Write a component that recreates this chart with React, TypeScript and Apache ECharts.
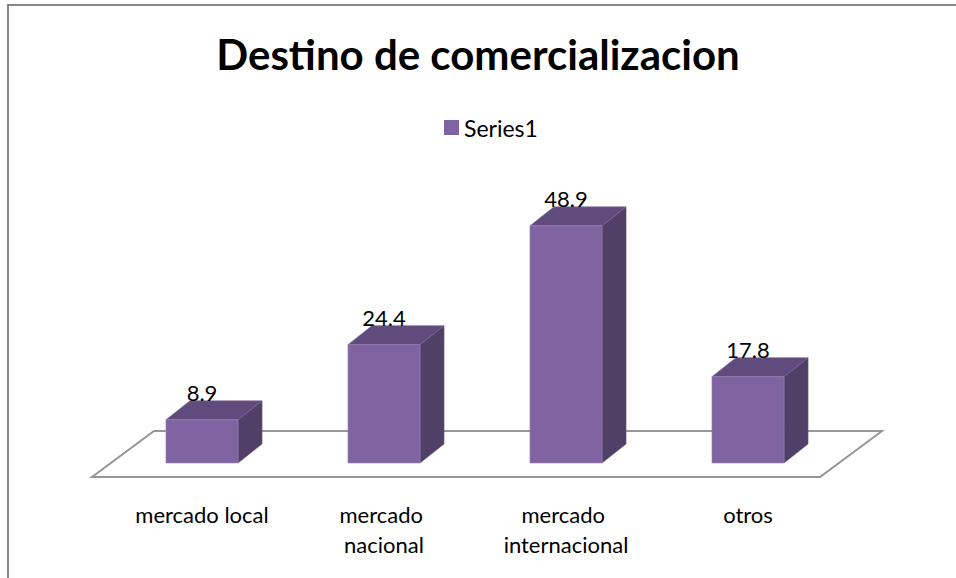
import React, { useEffect, useRef } from "react";
import * as echarts from "echarts";

const TITLE = "Destino de comercializacion";
const SERIES_NAME = "Series1";
const categories = ["mercado local", "mercado nacional", "mercado internacional", "otros"];
const values = [8.9, 24.4, 48.9, 17.8];
const Y_MIN = 0;
const Y_MAX = 60;

const FONT = "Lato, Carlito, Calibri, 'Liberation Sans', sans-serif";
const FRONT = "#8064A2";
const TOP = "#604B7D";
const SIDE = "#503F67";
const DEPTH_X = 24;
const DEPTH_Y = -19;
const BAR_RATIO = 0.396;

export default function App() {
  const ref = useRef<HTMLDivElement>(null);
  useEffect(() => {
    if (!ref.current) return;
    const chart = echarts.init(ref.current, undefined, { renderer: "svg" });
    const option: any = {
      animation: false,
      backgroundColor: "#ffffff",
      title: {
        text: TITLE,
        left: "center",
        top: 28,
        textStyle: { fontFamily: FONT, fontWeight: "bold", fontSize: 42, color: "#000000" },
      },
      legend: {
        show: true,
        left: 444,
        top: 116,
        padding: 0,
        icon: "rect",
        itemWidth: 15,
        itemHeight: 15,
        itemGap: 4,
        textStyle: { fontFamily: FONT, fontSize: 23, color: "#000000" },
        data: [SERIES_NAME],
      },
      grid: { left: 111, width: 728, top: 172, height: 291, containLabel: false },
      xAxis: {
        type: "category",
        data: categories,
        axisLine: { show: false },
        axisTick: { show: false },
        axisLabel: {
          fontFamily: FONT,
          fontSize: 22,
          color: "#000000",
          margin: 36,
          lineHeight: 30,
          width: 140,
          overflow: "break",
          interval: 0,
        },
      },
      yAxis: { type: "value", min: Y_MIN, max: Y_MAX, show: false, splitLine: { show: false } },
      graphic: [
        {
          type: "rect",
          shape: { x: 8, y: 5, width: 1200, height: 1200 },
          style: { fill: "none", stroke: "#878787", lineWidth: 2 },
          silent: true,
          z: 100,
        },
      ],
      series: [
        {
          type: "custom",
          name: "floor",
          silent: true,
          z: 1,
          data: [[0, 0]],
          encode: { x: 0, y: 1 },
          renderItem: (params: any) => {
            const cs = params.coordSys;
            const L = cs.x;
            const R = cs.x + cs.width;
            const B = cs.y + cs.height;
            return {
              type: "polygon",
              shape: {
                points: [
                  [L - 19, B + 14],
                  [R - 19, B + 14],
                  [R + 43, B - 32],
                  [L + 43, B - 32],
                ],
              },
              style: { fill: "#ffffff", stroke: "#979797", lineWidth: 2 },
            };
          },
        },
        {
          type: "custom",
          name: SERIES_NAME,
          z: 2,
          itemStyle: { color: FRONT },
          data: values.map((v, i) => [i, v]),
          encode: { x: 0, y: 1 },
          renderItem: (params: any, api: any) => {
            const idx = api.value(0);
            const val = api.value(1);
            const base = api.coord([idx, 0]);
            const top = api.coord([idx, val]);
            const band = api.size([1, 0])[0];
            const w = band * BAR_RATIO;
            const x0 = base[0] - w / 2;
            const x1 = base[0] + w / 2;
            const yb = base[1];
            const yt = top[1];
            return {
              type: "group",
              children: [
                {
                  type: "polygon",
                  shape: {
                    points: [
                      [x1, yt],
                      [x1 + DEPTH_X, yt + DEPTH_Y],
                      [x1 + DEPTH_X, yb + DEPTH_Y],
                      [x1, yb],
                    ],
                  },
                  style: { fill: SIDE, stroke: "#6a5a80", lineWidth: 0.6 },
                },
                {
                  type: "polygon",
                  shape: {
                    points: [
                      [x0, yt],
                      [x1, yt],
                      [x1 + DEPTH_X, yt + DEPTH_Y],
                      [x0 + DEPTH_X, yt + DEPTH_Y],
                    ],
                  },
                  style: { fill: TOP, stroke: "#7a6796", lineWidth: 0.6 },
                },
                {
                  type: "rect",
                  shape: { x: x0, y: yt, width: w, height: yb - yt },
                  style: { fill: FRONT, stroke: "#9884b4", lineWidth: 0.6 },
                },
                {
                  type: "text",
                  x: base[0],
                  y: yt + DEPTH_Y + 3,
                  style: {
                    text: String(val),
                    fontFamily: FONT,
                    fontSize: 22,
                    fill: "#000000",
                    align: "center",
                    verticalAlign: "bottom",
                  },
                },
              ],
            };
          },
        },
      ],
    };
    chart.setOption(option);
    return () => chart.dispose();
  }, []);
  return (
    <div
      ref={ref}
      style={{ position: "absolute", left: 0, top: 0, width: 956, height: 578 }}
    />
  );
}
